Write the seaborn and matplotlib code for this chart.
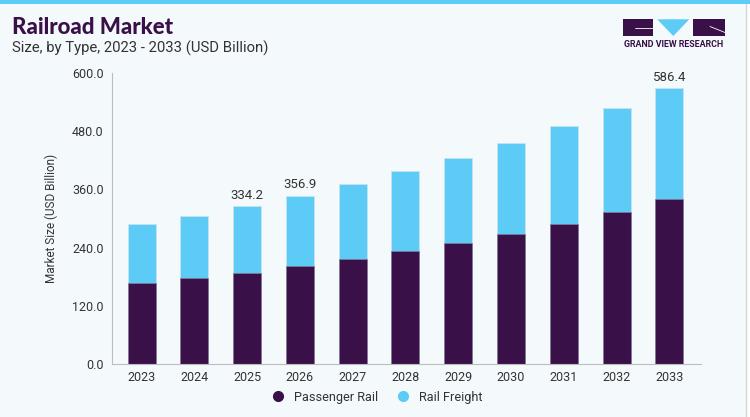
import pandas as pd
import matplotlib
matplotlib.use("Agg")
import matplotlib.pyplot as plt
import seaborn as sns
from matplotlib.patches import Rectangle, Polygon
from matplotlib.lines import Line2D

# ====== data ======
years = ["2023", "2024", "2025", "2026", "2027", "2028",
         "2029", "2030", "2031", "2032", "2033"]
passenger_rail = [166.7, 177.0, 188.0, 201.6, 216.7, 232.5,
                  249.0, 267.5, 289.0, 313.0, 339.5]
rail_freight = [121.3, 128.0, 137.0, 145.4, 154.3, 164.5,
                175.5, 187.5, 201.0, 215.0, 229.0]
label_years = ["2025", "2026", "2033"]
label_texts = ["334.2", "356.9", "586.4"]
y_ticks = [0, 120, 240, 360, 480, 600]

df = pd.DataFrame({"year": years, "passenger": passenger_rail, "freight": rail_freight})
df["total"] = df["passenger"] + df["freight"]

# ====== style ======
PURPLE = "#3a1048"
BLUE = "#5ccbf6"
BG = "#f4f9fc"
TXT = "#333333"
AXC = "#bdbdbd"

sns.set_style("white")
plt.rcParams["font.family"] = ["Roboto", "DejaVu Sans"]

W, H = 750, 417
fig = plt.figure(figsize=(7.5, 4.17), dpi=100)
fig.patch.set_facecolor(BG)

ax = fig.add_axes([112 / W, 1 - 364.3 / H, 589 / W, 291.6 / H])
ax.set_facecolor(BG)

# stacked bars: totals in blue, passenger drawn over in purple
sns.barplot(data=df, x="year", y="total", color=BLUE, saturation=1, width=0.53,
            edgecolor="#cfe3ee", linewidth=0.5, ax=ax)
sns.barplot(data=df, x="year", y="passenger", color=PURPLE, saturation=1, width=0.53,
            edgecolor="#8a7a96", linewidth=0.5, ax=ax)

for yr, txt in zip(label_years, label_texts):
    i = years.index(yr)
    ax.annotate(txt, (i, df["total"][i]), xytext=(0, 3), textcoords="offset points",
                ha="center", va="bottom", fontsize=9.5, color=TXT)

ax.set_xlim(-0.56, 10.6)
ax.set_ylim(0, 600)
ax.set_yticks(y_ticks)
ax.set_yticklabels([f"{v:.1f}" for v in y_ticks])
ax.set_xlabel("")
ax.set_ylabel("Market Size (USD Billion)", fontsize=8.5, color=TXT, labelpad=10)

for s in ["top", "right"]:
    ax.spines[s].set_visible(False)
for s in ["left", "bottom"]:
    ax.spines[s].set_color(AXC)
    ax.spines[s].set_linewidth(0.8)
ax.tick_params(axis="x", length=0, pad=5, labelsize=9, labelcolor=TXT)
ax.tick_params(axis="y", length=4, width=0.8, color=AXC, pad=2, labelsize=9, labelcolor=TXT)

# ====== legend ======
handles = [
    Line2D([], [], marker="o", ls="", markersize=7, color=PURPLE, label="Passenger Rail"),
    Line2D([], [], marker="o", ls="", markersize=7, color=BLUE, label="Rail Freight"),
]
fig.legend(handles=handles, loc="center", bbox_to_anchor=(374 / W, 1 - 397 / H), ncol=2,
           frameon=False, fontsize=9.2, handletextpad=0.25, columnspacing=1.0,
           labelcolor=TXT)

# ====== titles ======
fig.text(11.5 / W, 1 - 28 / H, "Railroad Market", fontsize=16, fontweight="black",
         color=PURPLE, va="center", ha="left", family=["Lato", "DejaVu Sans"])
fig.text(11.5 / W, 1 - 48.5 / H, "Size, by Type, 2023 - 2033 (USD Billion)", fontsize=10.7,
         color=TXT, va="center", ha="left")

# ====== frame: top stripe and right edge ======
fig.add_artist(Rectangle((0, 1 - 4 / H), 1, 4 / H, transform=fig.transFigure,
                         facecolor=BLUE, edgecolor="none"))
fig.add_artist(Rectangle((746 / W, 0), 4 / W, 1 - 4 / H, transform=fig.transFigure,
                         facecolor="white", edgecolor="none"))
fig.add_artist(Line2D([745.5 / W, 745.5 / W], [0, 1 - 4 / H], transform=fig.transFigure,
                      color="#d0d6da", lw=1))

# ====== logo ======
def px(x, y):
    return (x / W, 1 - y / H)

fig.add_artist(Rectangle(px(622.7, 36), 30 / W, 16.7 / H, transform=fig.transFigure,
                         facecolor=PURPLE, edgecolor="none"))
fig.add_artist(Line2D([635 / W, 652.7 / W], [1 - 27.7 / H, 1 - 27.7 / H],
                      transform=fig.transFigure, color="white", lw=0.6))
fig.add_artist(Polygon([px(657.3, 19.3), px(689.3, 19.3), px(673.3, 36)], closed=True,
                       transform=fig.transFigure, facecolor=BLUE, edgecolor="none"))
fig.add_artist(Rectangle(px(693.3, 36), 31.7 / W, 16.7 / H, transform=fig.transFigure,
                         facecolor=PURPLE, edgecolor="none"))
fig.add_artist(Line2D([710 / W, 725 / W], [1 - 26.5 / H, 1 - 32.5 / H],
                      transform=fig.transFigure, color="white", lw=0.6))
fig.text(673.8 / W, 1 - 44.3 / H, "GRAND VIEW RESEARCH", fontsize=6.4, fontweight="bold",
         color=PURPLE, ha="center", va="center")

fig.savefig("out.png", dpi=100, facecolor=fig.get_facecolor())
